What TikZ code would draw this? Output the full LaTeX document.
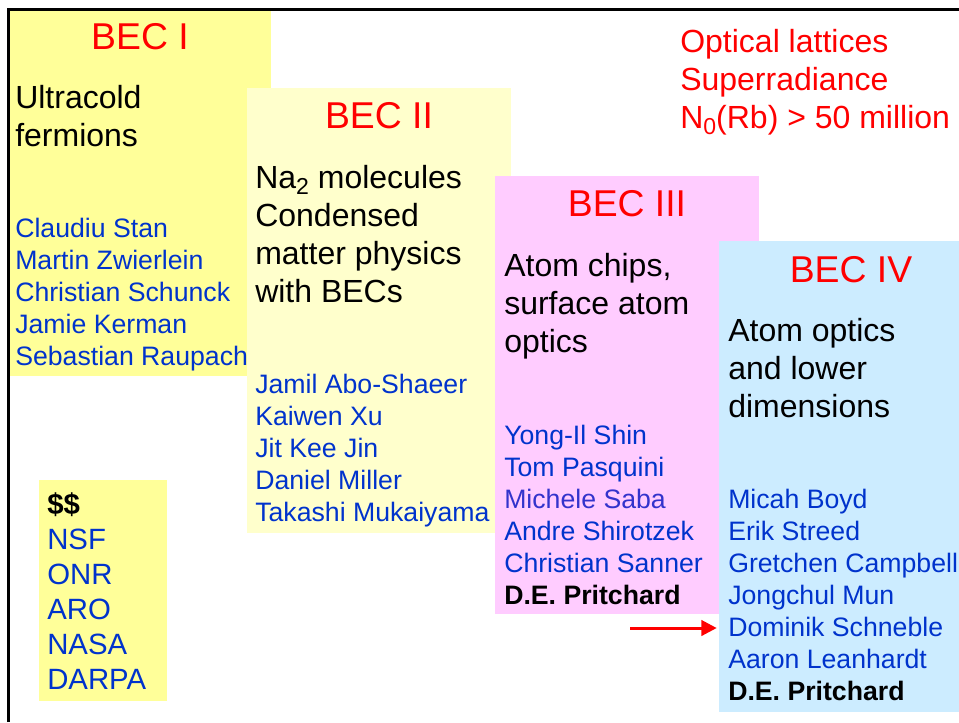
\documentclass[tikz,border=0pt]{standalone}
\usepackage{fontspec}
\usepackage{graphicx}
\setmainfont{Liberation Sans}
\usetikzlibrary{fit,arrows.meta}
\definecolor{becyellow}{HTML}{FFFF99}
\definecolor{becpale}{HTML}{FFFFCC}
\definecolor{becpink}{HTML}{FFCCFF}
\definecolor{becblue}{HTML}{CCECFF}
\definecolor{namblue}{HTML}{0033CC}
\definecolor{namviolet}{HTML}{3333CC}
\definecolor{titred}{HTML}{FF0000}
\newcommand{\rowstack}[1]{\vtop{\halign{##\hfil\cr#1\crcr}}}
\newcommand{\subsc}[1]{\raisebox{-0.2em}{\scalebox{0.72}{#1}}}
\newcommand{\boldrow}[1]{\hbox{\color{black}\bfseries #1}}
\newcommand{\violetrow}[1]{\hbox{\color{namviolet}#1}}
\begin{document}
\begin{tikzpicture}[x=0.75pt,y=-0.75pt,
  panel/.style={inner sep=0pt, draw=none},
  bectitle/.style={anchor=base, inner sep=0pt, text=titred, font=\fontsize{28}{34}\selectfont},
  topic/.style={anchor=base west, inner sep=0pt, text=black, font=\fontsize{24}{28.5}\selectfont},
  redtopic/.style={topic, text=titred},
  names/.style={anchor=base west, inner sep=0pt, text=namblue, font=\fontsize{20}{24}\selectfont},
  funds/.style={anchor=base west, inner sep=0pt, text=namblue, font=\fontsize{22}{26.25}\selectfont},
  arrowline/.style={draw=titred, line width=2.25pt, -{Triangle[length=11.5pt,width=11.5pt]}},
  frameline/.style={draw=black, line width=1.9pt}]
\useasboundingbox (0,0) rectangle (959,722);

% panels
\node[panel, fill=becyellow, fit={(9,9) (271,376)}] (becI) {};
\node[panel, fill=becpale, fit={(247,88) (511,533)}] (becII) {};
\node[panel, fill=becpink, fit={(495,176) (759,614)}] (becIII) {};
\node[panel, fill=becblue, fit={(719,241) (959,712)}] (becIV) {};
\node[panel, fill=becyellow, fit={(39,480) (167,701)}] (fund) {};

% titles
\node[bectitle] (tI) at (140,49.5) {BEC I};
\node[bectitle] (tII) at (379,128.5) {BEC II};
\node[bectitle] (tIII) at (627,216.7) {BEC III};
\node[bectitle] (tIV) at (851,282.3) {BEC IV};

% topics
\node[topic] (pI) at (15,108.3) {\rowstack{Ultracold\cr fermions}};
\node[topic] (pII) at (255,188.5) {\rowstack{Na\subsc{2} molecules\cr Condensed\cr matter physics\cr with BECs}};
\node[topic] (pIII) at (504,276.7) {\rowstack{Atom chips,\cr surface atom\cr optics}};
\node[topic] (pIV) at (728,341.7) {\rowstack{Atom optics\cr and lower\cr dimensions}};
\node[redtopic] (pRed) at (680,52.3) {\rowstack{Optical lattices\cr Superradiance\cr N\subsc{0}(Rb) > 50 million}};

% names
\node[names] (nI) at (15,237) {\rowstack{Claudiu Stan\cr Martin Zwierlein\cr Christian Schunck\cr Jamie Kerman\cr Sebastian Raupach}};
\node[names] (nII) at (255,393.7) {\rowstack{Jamil Abo-Shaeer\cr Kaiwen Xu\cr Jit Kee Jin\cr Daniel Miller\cr Takashi Mukaiyama}};
\node[names] (nIII) at (504,444) {\rowstack{Yong-Il Shin\cr Tom Pasquini\cr \violetrow{Michele Saba}\cr Andre Shirotzek\cr Christian Sanner\cr \boldrow{D.E. Pritchard}}};
\node[names] (nIV) at (728,508) {\rowstack{Micah Boyd\cr Erik Streed\cr Gretchen Campbell\cr Jongchul Mun\cr Dominik Schneble\cr Aaron Leanhardt\cr \boldrow{D.E. Pritchard}}};

% funding
\node[funds] (nF) at (47,514) {\rowstack{\boldrow{\$\$}\cr NSF\cr ONR\cr ARO\cr NASA\cr DARPA}};

% arrow
\coordinate (arrS) at (630,628);
\draw[arrowline, shorten >=1.5pt] (arrS) -- (arrS -| becIV.west);

% frame
\draw[frameline] (8.5,722) -- (8.5,9.5) -- (959,9.5);
\end{tikzpicture}
\end{document}
